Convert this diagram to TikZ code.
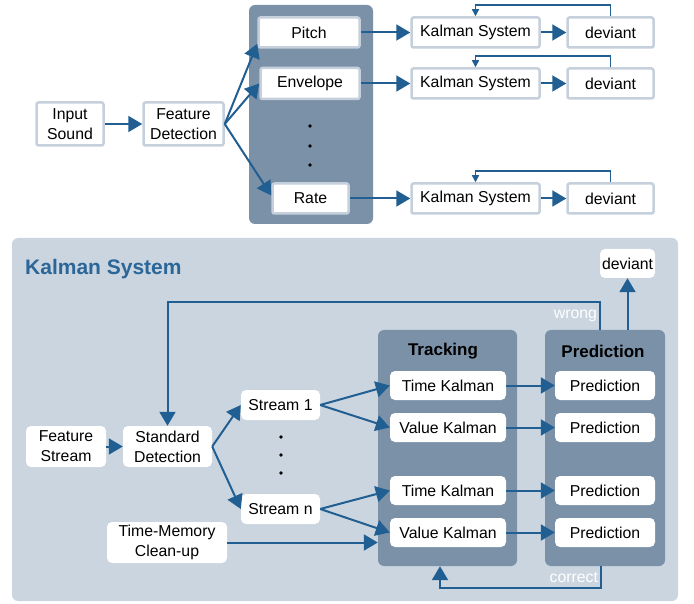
\documentclass[tikz,border=0pt]{standalone}
\usepackage{fontspec}
\setmainfont{Liberation Sans}
\usepackage{xcolor}
\usetikzlibrary{positioning,calc,arrows.meta}
\definecolor{linkblue}{HTML}{215E91}
\definecolor{boxedge}{HTML}{C5D0DC}
\definecolor{panelgray}{HTML}{7A91A8}
\definecolor{sysgray}{HTML}{CBD5DF}
\definecolor{titleblue}{HTML}{2B6699}

\begin{document}
\begin{tikzpicture}[x=1pt,y=-1pt,
    font=\fontsize{15.8}{20}\selectfont,
    topbox/.style={draw=boxedge,line width=2.5pt,fill=white,rounded corners=2pt,align=center,inner sep=0pt},
    wbox/.style={fill=white,rounded corners=5pt,align=center,inner sep=0pt},
    panel/.style={fill=panelgray,rounded corners=6pt,inner sep=0pt},
    link/.style={-{Triangle[length=14pt,width=16pt]},line width=2pt,linkblue},
    loopback/.style={-{Triangle[length=7pt,width=7pt]},line width=1.5pt,linkblue},
    wlabel/.style={white,inner sep=2pt}]
	\useasboundingbox (0,0) rectangle (694,604);
	% feature extraction
	\node[topbox,minimum width=67pt,minimum height=43pt] (in) at (70,124) {Input\\Sound};
	\node[topbox,minimum width=80pt,minimum height=43pt] (fd) at (183.5,124) {Feature\\Detection};
	\node[panel,minimum width=124pt,minimum height=219pt] (feat) at (311,114.5) {};
	\node[topbox,minimum width=101pt,minimum height=30pt] (pitch) at (309,32.5) {Pitch};
	\node[topbox,minimum width=99pt,minimum height=31pt] (env) at (310,83.5) {Envelope};
	\node[topbox,minimum width=76pt,minimum height=30pt] (rate) at (310.5,198.5) {Rate};
	\foreach \y in {126,146,165}{
			\fill (310,\y) circle (1.8pt);
		}
	\draw[link] (in) -- (fd);
	\draw[link] (fd.east) -- ([yshift=5pt]pitch.south west);
	\draw[link] (fd.east) -- (env.west);
	\draw[link] (fd.east) -- ([yshift=3pt]rate.west);
	% one Kalman System per feature
	\foreach \n/\f/\y in {1/pitch/32.5,2/env/83.5,3/rate/198.5}{
			\node[topbox,minimum width=128pt,minimum height=30pt] (ks\n) at (475.5,\y) {Kalman System};
			\node[topbox,minimum width=86pt,minimum height=30pt] (dv\n) at (610.5,\y) {deviant};
			\draw[link] (\f) -- (ks\n);
			\draw[link] (ks\n) -- (dv\n);
			\draw[loopback] (dv\n.north) -- ++(0,-11) -| (ks\n.north);
		}

	% Kalman System in detail
	\node[fill=sysgray,rounded corners=6pt,minimum width=666pt,minimum height=363pt,inner sep=0pt] (ksys) at (345,419.5) {};
	\node[anchor=west,inner sep=0pt,titleblue,font=\bfseries\fontsize{21}{24}\selectfont] (kstitle) at (25,269) {Kalman System};
	\node[wbox,minimum width=80pt,minimum height=41pt] (fs) at (66,446.5) {Feature\\Stream};
	\node[wbox,minimum width=89pt,minimum height=41pt] (sd) at (167.5,446.5) {Standard\\Detection};
	\node[wbox,minimum width=79pt,minimum height=30pt] (s1) at (280.5,405) {Stream 1};
	\node[wbox,minimum width=79pt,minimum height=30pt] (sn) at (280.5,509) {Stream n};
	\foreach \y in {437,455,473}{
			\fill (281,\y) circle (1.8pt);
		}
	\node[wbox,minimum width=120pt,minimum height=41pt] (tm) at (167,542.5) {Time-Memory\\Clean-up};
	\node[panel,minimum width=139pt,minimum height=236pt] (track) at (447.5,448) {};
	\node[panel,minimum width=120pt,minimum height=236pt] (pred) at (605,448) {};
	\node[font=\bfseries\fontsize{17}{20}\selectfont] (tracktitle) at (443,351) {Tracking};
	\node[font=\bfseries\fontsize{17}{20}\selectfont] (predtitle) at (603,351) {Prediction};
	\foreach \n/\y/\t in {1/385.5/Time,2/427.5/Value,3/490.5/Time,4/532.5/Value}{
			\node[wbox,minimum width=116pt,minimum height=29pt] (k\n) at (448,\y) {\t\ Kalman};
			\node[wbox,minimum width=100pt,minimum height=29pt] (p\n) at (605,\y) {Prediction};
			\draw[link] (k\n) -- (p\n);
		}
	\node[wbox,minimum width=55pt,minimum height=29pt] (dev) at (627.5,263.5) {deviant};

	\draw[link] (fs) -- (sd);
	\draw[link] (sd.east) -- (s1.west);
	\draw[link] (sd.east) -- (sn.west);
	\draw[link] (s1.east) -- (k1.west);
	\draw[link] (s1.east) -- (k2.west);
	\draw[link] (sn.east) -- (k3.west);
	\draw[link] (sn.east) -- (k4.west);
	\draw[link] (tm.east) -- (tm.east -| track.west);
	\draw[link] (pred.north -| dev.south) -- (dev.south);
	\draw[link] ([xshift=-5pt]pred.north) -- ++(0,-28) node[wlabel,midway,left] (wrong) {wrong} -| (sd.north);
	\draw[link] ([xshift=-4pt]pred.south) -- ++(0,22) node[wlabel,midway,left] (correct) {correct} -| ([xshift=-7.5pt]track.south);
\end{tikzpicture}
\end{document}
